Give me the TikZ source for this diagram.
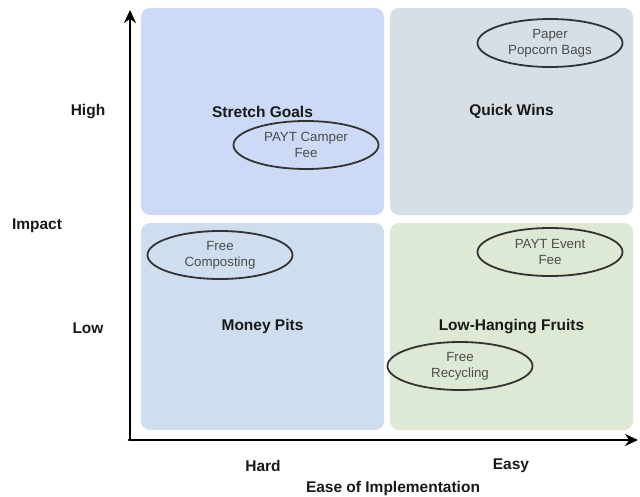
\documentclass[tikz,border=0pt]{standalone}
\usepackage{fontspec}
\setmainfont{Liberation Sans}
\usetikzlibrary{shapes.geometric,arrows.meta}
\definecolor{sgoal}{RGB}{204,218,245}
\definecolor{qwin}{RGB}{214,223,229}
\definecolor{mpit}{RGB}{207,222,239}
\definecolor{lfruit}{RGB}{221,232,213}
\begin{document}
\begin{tikzpicture}[x=1pt,y=-1pt,>={Stealth[length=13pt,width=12pt]}, line join=round, line cap=round,
	font=\fontsize{15.5}{17}\selectfont\bfseries,
	quad/.style={rounded corners=9pt, draw=none, minimum width=243pt, minimum height=207pt, inner sep=0pt, text=black!90},
	idea/.style={ellipse, draw=black!80, line width=1.8pt, minimum width=145pt, minimum height=48pt, inner sep=0pt, align=center, text=black!70, font=\fontsize{13.3}{16}\selectfont}]
	\useasboundingbox (0,0) rectangle (640,496);
	\path
	(130,440) coordinate (O)
	(130,10) coordinate (Ytop)
	(638,440) coordinate (Xend)
	;
	% quadrants
	\node[quad, fill=sgoal] (SG) at (262.5,111.5) {Stretch Goals};
	\node[quad, fill=qwin] (QW) at (511.5,111.5) {Quick Wins};
	\node[quad, fill=mpit] (MP) at (262.5,326.5) {Money Pits};
	\node[quad, fill=lfruit] (LF) at (511.5,326.5) {Low-Hanging Fruits};
	% ideas
	\foreach \name/\pos/\txt in {pop/{(550,43)}/{Paper\\Popcorn Bags}, camp/{(306,145)}/{PAYT Camper\\Fee},
		comp/{(220,255)}/{Free\\Composting}, event/{(550,252)}/{PAYT Event\\Fee}, recy/{(460,366)}/{Free\\Recycling}}
	\node[idea] (\name) at \pos {\txt};
	% axes
	\draw[line width=2.4pt,->] (O)--(Ytop);
	\draw[line width=2.4pt,->] ([xshift=-1.2pt]O)--(Xend);
	\foreach \name/\x/\y/\txt in {high/88/112/High, imp/37/226/Impact, low/88/328/Low,
		hard/263/466/Hard, easy/511/466/Easy, ease/393/488/Ease of Implementation}
	\node[text=black!90] (\name) at (\x,\y) {\txt};
\end{tikzpicture}
\end{document}
